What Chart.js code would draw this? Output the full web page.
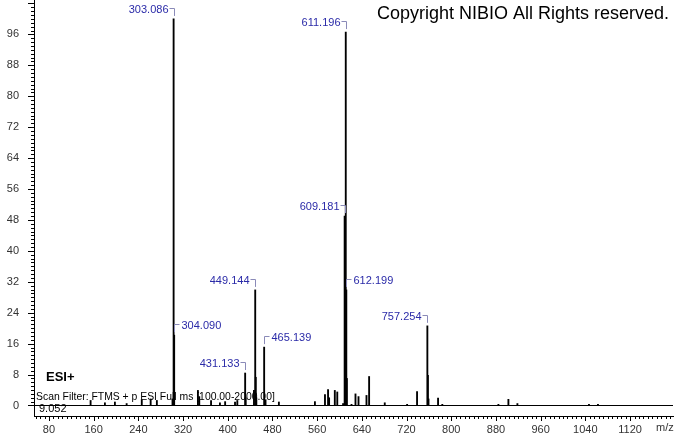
<!DOCTYPE html>
<html>
<head>
<meta charset="utf-8">
<script src="https://cdn.jsdelivr.net/npm/chart.js@4.4.0/dist/chart.umd.min.js"></script>
<style>
  body { margin: 0; background: #fff; }
  canvas { display: block; }
</style>
</head>
<body>
<canvas id="chart" width="674" height="434"></canvas>
<script>
// peaks (m/z, relative abundance)
var mzValues = [154.5, 180.1, 198.0, 219.0, 246.1, 262.0, 273.1, 301.1, 303.086, 304.090,
  346.6, 349.0, 370.1, 386.0, 395.3, 413.0, 417.1, 431.133, 432.1, 446.9, 449.144, 450.148, 451.15,
  465.139, 467.6, 491.5, 556.0, 574.0, 579.5, 581.4, 591.6, 596.0, 606.4, 609.181, 610.184,
  611.196, 612.199, 613.2, 621.5, 628.6, 634.0, 648.3, 653.0, 681.0, 721.0, 738.8,
  757.254, 758.258, 759.3, 776.4, 784.0, 884.4, 902.3, 918.4, 1046.5, 1062.6];
var intensities = [1.3, 0.7, 0.9, 0.5, 1.5, 1.7, 1.3, 1.7, 100, 18.2,
  3.9, 2.3, 1.3, 0.7, 1.0, 0.9, 1.3, 8.4, 2.0, 3.9, 29.9, 7.3, 2.0,
  15.1, 1.5, 0.9, 1.0, 2.8, 4.1, 2.0, 3.9, 3.5, 0.5, 49.0, 12.0,
  96.6, 29.9, 7.0, 0.3, 3.0, 2.3, 2.6, 7.5, 0.7, 0.3, 3.6,
  20.6, 7.8, 1.7, 1.9, 0.3, 0.3, 1.6, 0.5, 0.3, 0.3];

// labelled peaks
var labelMz = [303.086, 304.090, 431.133, 449.144, 465.139, 609.181, 611.196, 612.199, 757.254];
var labelSide = ['left', 'right', 'left', 'left', 'right', 'left', 'left', 'right', 'left'];

var xTicks = [80, 160, 240, 320, 400, 480, 560, 640, 720, 800, 880, 960, 1040, 1120];
var yTicks = [0, 8, 16, 24, 32, 40, 48, 56, 64, 72, 80, 88, 96];

var FONT = '"Liberation Sans", Arial, sans-serif';

var points = mzValues.map(function (m, i) { return { x: m, y: intensities[i] }; });

// minor ticks, peak labels and the instrument texts
var decor = {
  id: 'decor',
  afterDraw: function (chart) {
    var ctx = chart.ctx, x = chart.scales.x, y = chart.scales.y;
    var area = chart.chartArea;
    ctx.save();
    ctx.strokeStyle = '#000';
    ctx.lineWidth = 1;
    ctx.beginPath();
    // y ticks every 1, long ones every 8
    for (var v = 0; v <= 104; v++) {
      var py = Math.round(y.getPixelForValue(v)) + 0.5;
      var len = (v % 8 === 0) ? 6 : 3;
      ctx.moveTo(area.left - len, py);
      ctx.lineTo(area.left, py);
    }
    // x ticks every 8, long ones every 80
    for (var m = 56; m <= 1196; m += 8) {
      var px = Math.round(x.getPixelForValue(m)) + 0.5;
      var l = (m % 80 === 0) ? 5 : 3;
      ctx.moveTo(px, area.bottom);
      ctx.lineTo(px, area.bottom + l);
    }
    ctx.stroke();

    // peak labels with bracket connectors
    ctx.font = '11px ' + FONT;
    ctx.textBaseline = 'middle';
    labelMz.forEach(function (mz, i) {
      var idx = mzValues.indexOf(mz);
      var px = Math.round(x.getPixelForValue(mz)) + 0.5;
      var top = y.getPixelForValue(intensities[idx]);
      var ty = Math.round(top - 11) + 0.5;
      ctx.strokeStyle = '#8a8ab8';
      ctx.beginPath();
      if (labelSide[i] === 'left') {
        ctx.moveTo(px - 5, ty); ctx.lineTo(px, ty); ctx.lineTo(px, top - 3);
      } else {
        ctx.moveTo(px, top - 3); ctx.lineTo(px, ty); ctx.lineTo(px + 5, ty);
      }
      ctx.stroke();
      ctx.fillStyle = '#2a2aa8';
      ctx.textAlign = labelSide[i] === 'left' ? 'right' : 'left';
      ctx.fillText(mz.toFixed(3), labelSide[i] === 'left' ? px - 6 : px + 7, ty + 1);
    });

    ctx.fillStyle = '#000';
    ctx.textAlign = 'left';
    ctx.font = '18px ' + FONT;
    ctx.fillText('Copyright NIBIO All Rights reserved.', 377, 14);
    ctx.font = 'bold 13px ' + FONT;
    ctx.fillText('ESI+', 46, 377);
    ctx.font = '10.4px ' + FONT;
    ctx.fillText('Scan Filter: FTMS + p ESI Full ms [100.00-2000.00]', 36, 397);
    ctx.font = '11px ' + FONT;
    ctx.fillText('9.052', 39, 409);
    ctx.fillStyle = '#333';
    ctx.fillText('m/z', 656, 428);
    ctx.restore();
  }
};

var ctx = document.getElementById('chart').getContext('2d');
var myChart = new Chart(ctx, {
  type: 'bar',
  data: {
    datasets: [{
      data: points,
      backgroundColor: '#000',
      borderWidth: 0,
      barThickness: 1.2
    }]
  },
  options: {
    responsive: false,
    animation: false,
    devicePixelRatio: 1,
    layout: { padding: { top: 0, right: 1, left: 0, bottom: 0 } },
    plugins: { legend: { display: false }, tooltip: { enabled: false } },
    scales: {
      x: {
        type: 'linear',
        min: 53.2,
        max: 1196.9,
        offset: false,
        afterBuildTicks: function (s) { s.ticks = xTicks.map(function (v) { return { value: v }; }); },
        afterFit: function (s) { s.height = 18; s.paddingLeft = 0; s.paddingRight = 0; },
        grid: { display: false, drawTicks: false },
        border: { display: true, color: '#000' },
        ticks: {
          padding: 7, maxRotation: 0, autoSkip: false, color: '#333', font: { family: FONT, size: 11 },
          callback: function (v) { return String(v); }
        }
      },
      y: {
        min: -2.72,
        max: 104.9,
        afterBuildTicks: function (s) { s.ticks = yTicks.map(function (v) { return { value: v }; }); },
        afterFit: function (s) { s.width = 34; s.paddingTop = 0; s.paddingBottom = 0; },
        grid: {
          drawTicks: false,
          color: function (c) { return c.tick && c.tick.value === 0 ? '#000' : 'rgba(0,0,0,0)'; }
        },
        border: { display: true, color: '#000' },
        ticks: { padding: 15, color: '#333', font: { family: FONT, size: 11 } }
      }
    }
  },
  plugins: [decor]
});
</script>
</body>
</html>
